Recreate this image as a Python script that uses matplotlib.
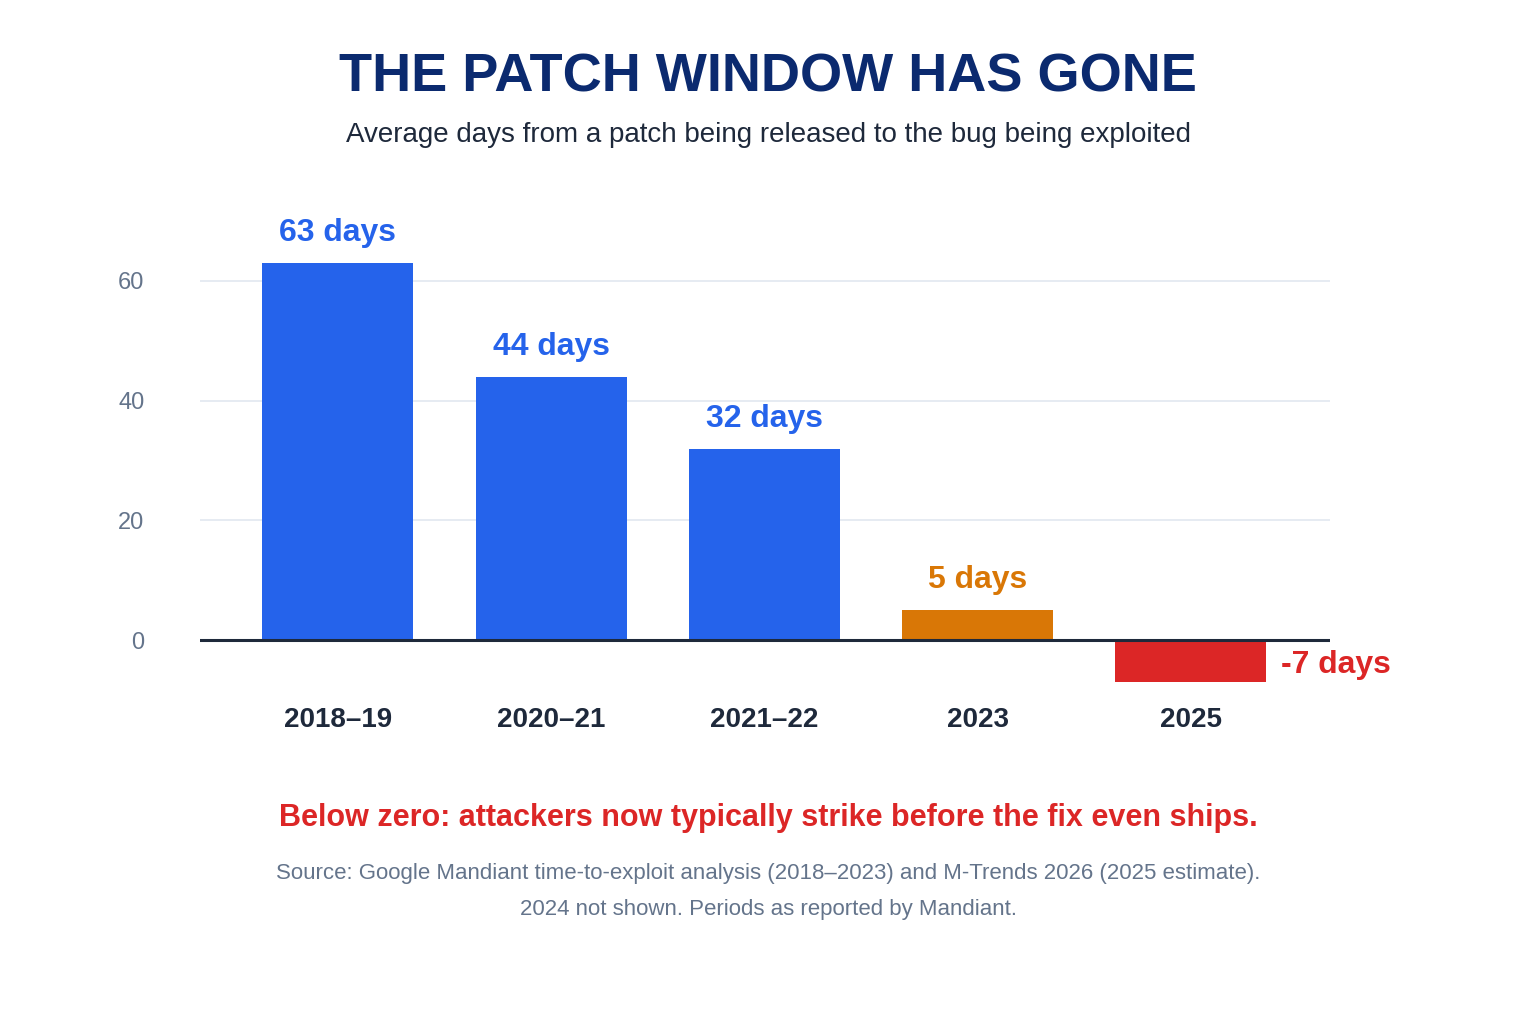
import matplotlib
matplotlib.use("Agg")
import matplotlib.pyplot as plt
from matplotlib.transforms import blended_transform_factory as btf

categories = ["2018–19", "2020–21", "2021–22", "2023", "2025"]
values = [63, 44, 32, 5, -7]
colors = ["#2563EB", "#2563EB", "#2563EB", "#D97706", "#DC2626"]
labels = ["63 days", "44 days", "32 days", "5 days", "-7 days"]
yticks = [0, 20, 40, 60]

plt.rcParams['font.family'] = ['Liberation Sans', 'DejaVu Sans']
fig = plt.figure(figsize=(15.36, 10.24), dpi=100)
ax = fig.add_axes([200/1536, 1-700/1024, 1130/1536, 497/1024])
x = list(range(len(categories)))
ax.bar(x, values, width=0.708, color=colors, zorder=3)
ax.set_xlim(-0.647, 4.652)
ax.set_ylim(-10, 73)
ax.set_yticks(yticks)
ax.tick_params(axis='y', length=0, labelsize=17, labelcolor="#64748B", pad=40)
ax.set_xticks([])
for y in yticks[1:]:
    ax.axhline(y, color="#E2E8F0", lw=1.2, zorder=1)
ax.axhline(0, color="#1E293B", lw=2.2, zorder=4)
for s in ax.spines.values():
    s.set_visible(False)
for xi, v, c, l in zip(x, values, colors, labels):
    if v >= 0:
        ax.text(xi, v + 2.5, l, ha='center', va='bottom', color=c, fontsize=23, fontweight='bold')
    else:
        ax.text(xi + 0.42, v / 2 - 0.6, l, ha='left', va='center', color=c, fontsize=23, fontweight='bold')
tr = btf(ax.transData, fig.transFigure)
for xi, cat in zip(x, categories):
    ax.text(xi, 1-720/1024, cat, transform=tr, ha='center', va='center', fontsize=20, fontweight='bold', color="#1E293B")

fig.text(0.5, 1-78/1024, "THE PATCH WINDOW HAS GONE", ha='center', va='center', fontsize=39, fontweight='bold', color="#0B2A6F")
fig.text(0.5, 1-135/1024, "Average days from a patch being released to the bug being exploited", ha='center', va='center', fontsize=20, color="#1E293B")
fig.text(0.5, 1-818/1024, "Below zero: attackers now typically strike before the fix even ships.", ha='center', va='center', fontsize=22, fontweight='bold', color="#DC2626")
fig.text(0.5, 1-874/1024, "Source: Google Mandiant time-to-exploit analysis (2018–2023) and M-Trends 2026 (2025 estimate).", ha='center', va='center', fontsize=16, color="#64748B")
fig.text(0.5, 1-910/1024, "2024 not shown. Periods as reported by Mandiant.", ha='center', va='center', fontsize=16, color="#64748B")
fig.savefig("out.png", dpi=100)
